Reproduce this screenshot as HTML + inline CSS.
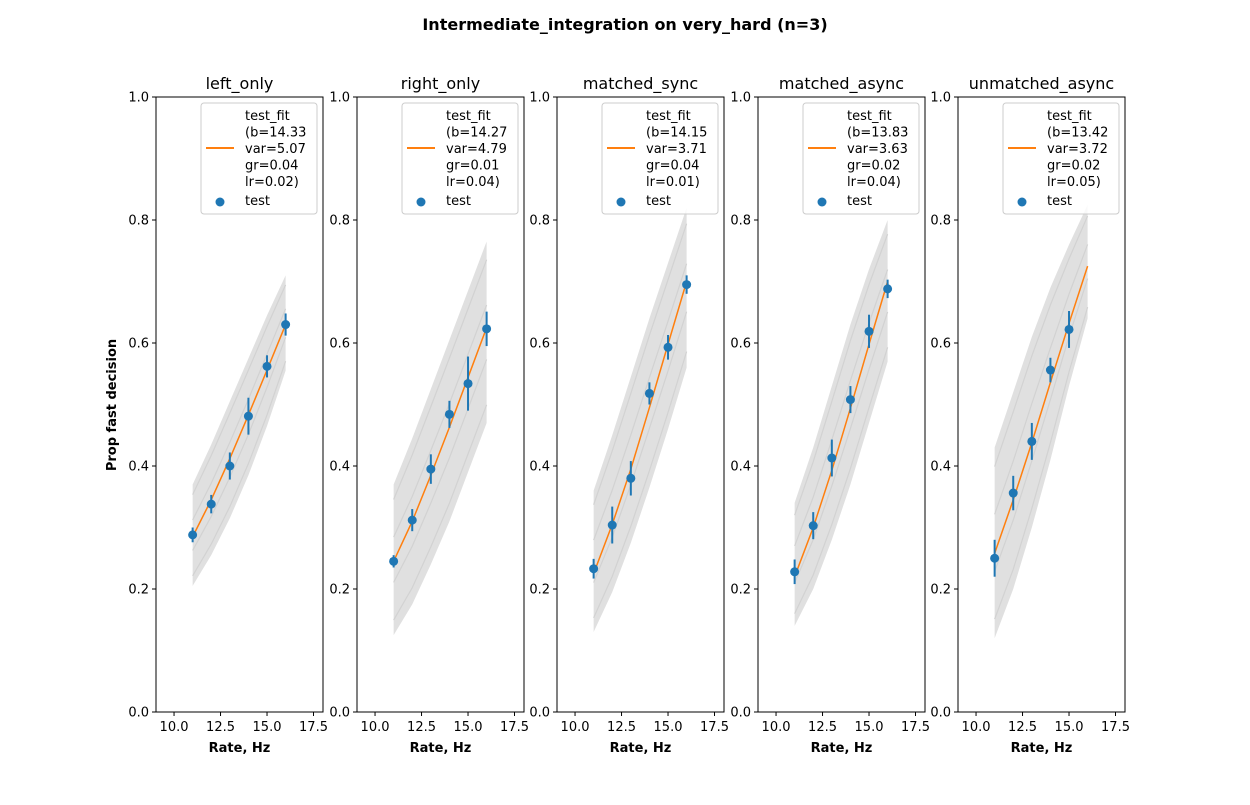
<!DOCTYPE html>
<html><head><meta charset="utf-8"><style>
body{margin:0;background:#fff;}
svg{font-family:"DejaVu Sans","Liberation Sans",sans-serif;}
</style></head><body>
<svg id="chart" width="1250" height="800" viewBox="0 0 1250 800">
<text x="625" y="30" text-anchor="middle" font-size="16" font-weight="bold">Intermediate_integration on very_hard (n=3)</text>
</svg>
<script>
const panelTitles=["left_only","right_only","matched_sync","matched_async","unmatched_async"];
const rates=[11,12,13,14,15,16];
const xTicks=[10.0,12.5,15.0,17.5];
const yTicks=[0.0,0.2,0.4,0.6,0.8,1.0];
const pointsP1=[0.288,0.338,0.400,0.481,0.562,0.630];
const pointsP2=[0.245,0.312,0.395,0.484,0.534,0.623];
const pointsP3=[0.233,0.304,0.380,0.518,0.593,0.695];
const pointsP4=[0.228,0.303,0.413,0.508,0.619,0.688];
const pointsP5=[0.250,0.356,0.440,0.556,0.622];
const errP1=[0.012,0.015,0.022,0.030,0.018,0.018];
const errP2=[0.010,0.018,0.024,0.022,0.044,0.028];
const errP3=[0.016,0.030,0.028,0.018,0.020,0.015];
const errP4=[0.020,0.022,0.030,0.022,0.027,0.015];
const errP5=[0.030,0.028,0.030,0.020,0.030];
const fitP1=[0.285,0.345,0.412,0.483,0.556,0.630];
const fitP2=[0.245,0.310,0.385,0.463,0.544,0.625];
const fitP3=[0.225,0.305,0.395,0.495,0.598,0.700];
const fitP4=[0.220,0.300,0.393,0.494,0.598,0.700];
const fitP5=[0.258,0.345,0.438,0.536,0.632,0.725];
const bandLoP1=[0.205,0.255,0.315,0.385,0.465,0.555];
const bandHiP1=[0.370,0.435,0.505,0.575,0.645,0.710];
const bandLoP2=[0.125,0.175,0.240,0.310,0.390,0.470];
const bandHiP2=[0.370,0.445,0.525,0.605,0.685,0.765];
const bandLoP3=[0.130,0.195,0.275,0.365,0.460,0.560];
const bandHiP3=[0.360,0.450,0.545,0.640,0.730,0.820];
const bandLoP4=[0.140,0.200,0.280,0.370,0.470,0.570];
const bandHiP4=[0.340,0.430,0.530,0.630,0.720,0.800];
const bandLoP5=[0.120,0.200,0.300,0.410,0.530,0.640];
const bandHiP5=[0.430,0.520,0.610,0.690,0.760,0.825];
const legendB=["14.33","14.27","14.15","13.83","13.42"];
const legendVar=["5.07","4.79","3.71","3.63","3.72"];
const legendGr=["0.04","0.01","0.04","0.02","0.02"];
const legendLr=["0.02","0.04","0.01","0.04","0.05"];
const points=[pointsP1,pointsP2,pointsP3,pointsP4,pointsP5];
const errs=[errP1,errP2,errP3,errP4,errP5];
const fits=[fitP1,fitP2,fitP3,fitP4,fitP5];
const bandLo=[bandLoP1,bandLoP2,bandLoP3,bandLoP4,bandLoP5];
const bandHi=[bandHiP1,bandHiP2,bandHiP3,bandHiP4,bandHiP5];
const lefts=[156,357,557,758,958];
const W=167,T=97,B=712,XMIN=9.03,XMAX=18.01;
const svg=document.getElementById('chart');
const NS='http://www.w3.org/2000/svg';
function mk(tag,attrs,parent){const e=document.createElementNS(NS,tag);for(const k in attrs)e.setAttribute(k,attrs[k]);(parent||svg).appendChild(e);return e;}
function txt(s,attrs,parent){const e=mk('text',attrs,parent);e.textContent=s;return e;}
for(let p=0;p<5;p++){
  const L=lefts[p];
  const xs=v=>L+(v-XMIN)/(XMAX-XMIN)*W;
  const ys=v=>B-v*(B-T);
  const g=mk('g',{});
  
  
  let pts=rates.map((r,i)=>xs(r)+','+ys(bandLo[p][i])).concat(rates.slice().reverse().map((r,j)=>{const i=rates.length-1-j;return xs(r)+','+ys(bandHi[p][i]);}));
  const band=mk('polygon',{points:pts.join(' '),fill:'#e0e0e0',stroke:'none'},g);
  
  
  for(const f of [0.1,0.35,0.65,0.9]){
    const pl=mk('polyline',{points:rates.map((r,i)=>xs(r)+','+ys(bandLo[p][i]+f*(bandHi[p][i]-bandLo[p][i]))).join(' '),fill:'none',stroke:'#d2d2d2','stroke-width':1.2},g);
    
    
  }
  const fl=mk('polyline',{points:rates.map((r,i)=>xs(r)+','+ys(fits[p][i])).join(' '),fill:'none',stroke:'#ff7f0e','stroke-width':1.5},g);
  
  
  points[p].forEach((v,i)=>{
    const x=xs(rates[i]);
    const eb=mk('line',{x1:x,x2:x,y1:ys(v-errs[p][i]),y2:ys(v+errs[p][i]),stroke:'#1f77b4','stroke-width':2},g);
    
    
    const c=mk('circle',{cx:x,cy:ys(v),r:4.5,fill:'#1f77b4'},g);
    
    
  });
  const fr=mk('rect',{x:L,y:T,width:W,height:B-T,fill:'none',stroke:'#000','stroke-width':1},g);
  
  
  xTicks.forEach(t=>{const x=xs(t);mk('line',{x1:x,x2:x,y1:B,y2:B+4,stroke:'#000'},g);
    const tl=txt(t.toFixed(1),{x:x,y:B+19,'text-anchor':'middle','font-size':13},g);
    });
  yTicks.forEach(t=>{const y=ys(t);mk('line',{x1:L-4,x2:L,y1:y,y2:y,stroke:'#000'},g);
    const tl=txt(t.toFixed(1),{x:L-7,y:y+4.5,'text-anchor':'end','font-size':13},g);
    });
  const pt=txt(panelTitles[p],{x:L+W/2,y:89,'text-anchor':'middle','font-size':16},g);
  
  const xl=txt('Rate, Hz',{x:L+W/2,y:752,'text-anchor':'middle','font-size':13,'font-weight':'bold'},g);
  
  const lg=mk('g',{},g);
  
  const lx=L+W-122,lw=116;
  mk('rect',{x:lx,y:103,width:lw,height:111,rx:3,fill:'#fff','fill-opacity':0.8,stroke:'#ccc'},lg);
  mk('line',{x1:lx+5,x2:lx+33,y1:148,y2:148,stroke:'#ff7f0e','stroke-width':2},lg);
  const lines=['test_fit','(b='+legendB[p],'var='+legendVar[p],'gr='+legendGr[p],'lr='+legendLr[p]+')'];
  lines.forEach((s,i)=>txt(s,{x:lx+44,y:120+i*16.5,'font-size':13},lg));
  mk('circle',{cx:lx+19,cy:202,r:4.5,fill:'#1f77b4'},lg);
  txt('test',{x:lx+44,y:205,'font-size':13},lg);
}
const yl=txt('Prop fast decision',{x:0,y:0,'text-anchor':'middle','font-size':13,'font-weight':'bold',transform:'translate(116,405) rotate(-90)'});


</script>
</body></html>
